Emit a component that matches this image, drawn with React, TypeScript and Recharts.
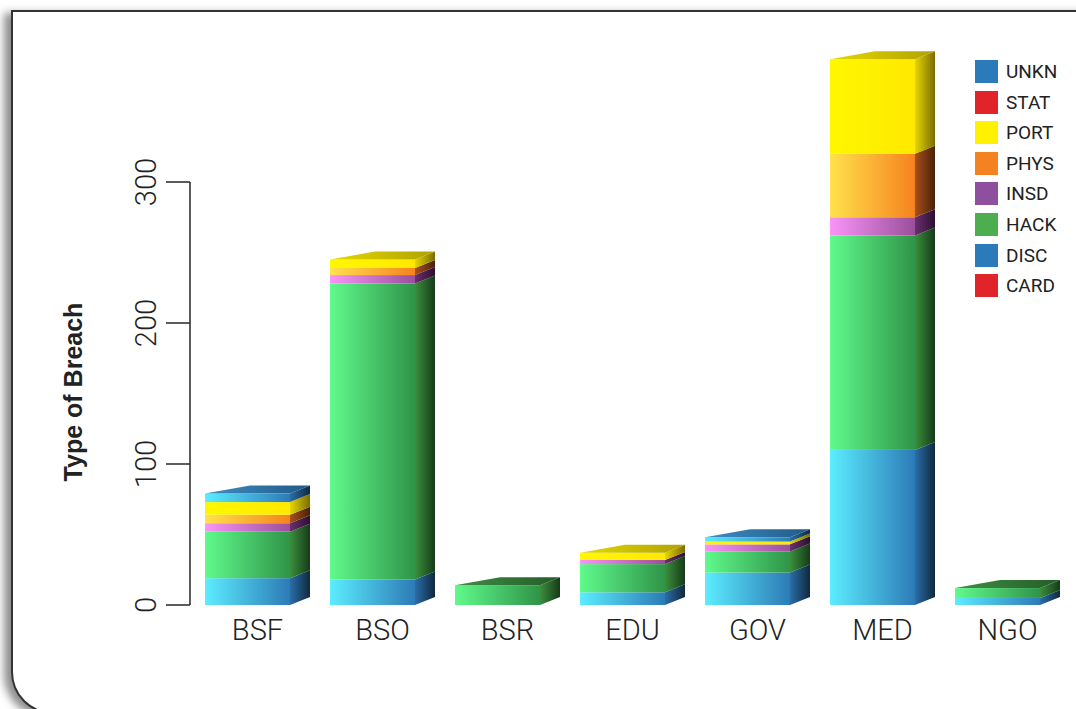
import React from 'react';
import { BarChart, Bar, XAxis, YAxis } from 'recharts';

// ---- data ----
const categories = ['BSF', 'BSO', 'BSR', 'EDU', 'GOV', 'MED', 'NGO'];
const CARD = [0, 0, 0, 0, 0, 0, 0];
const DISC = [19, 18, 0, 9, 23, 110, 5];
const HACK = [33, 210, 14, 20, 15, 152, 7];
const INSD = [6, 6, 0, 3, 5, 13, 0];
const PHYS = [6, 5, 0, 0, 0, 45, 0];
const PORT = [9, 6, 0, 5, 2, 67, 0];
const STAT = [0, 0, 0, 0, 0, 0, 0];
const UNKN = [6, 0, 0, 0, 3, 0, 0];

const yTicks = [0, 100, 200, 300];
const stackKeys = ['CARD', 'DISC', 'HACK', 'INSD', 'PHYS', 'PORT', 'STAT', 'UNKN'];
const legendKeys = ['UNKN', 'STAT', 'PORT', 'PHYS', 'INSD', 'HACK', 'DISC', 'CARD'];
const legendColors: Record<string, string> = {
  UNKN: '#2b7bba', STAT: '#e0242a', PORT: '#fff100', PHYS: '#f58220',
  INSD: '#8e4f9e', HACK: '#4cae4f', DISC: '#2b7bba', CARD: '#e0242a',
};

const series: Record<string, number[]> = { CARD, DISC, HACK, INSD, PHYS, PORT, STAT, UNKN };
const data = categories.map((c, i) => {
  const row: Record<string, any> = { name: c };
  stackKeys.forEach((k) => { row[k] = series[k][i]; });
  return row;
});

// ---- style / layout ----
const CHART_W = 1076;
const CHART_H = 709;
const MARGIN = { top: 41, right: 6, bottom: 0, left: 0 };
const XAXIS_H = 104;
const YAXIS_W = 190;
const Y_MAX = 400;
const PLOT_H = CHART_H - MARGIN.top - MARGIN.bottom - XAXIS_H;
const DX = 20;
const DY = 8;
const BAR_W = 85;
const FONT = "Roboto, 'Liberation Sans', sans-serif";

const groupOf: Record<string, string> = {
  CARD: 'red', STAT: 'red', DISC: 'blue', UNKN: 'blue', HACK: 'green',
  INSD: 'purple', PHYS: 'orange', PORT: 'yellow',
};
const grads: Record<string, { front: string[]; side: string[]; top: string[] }> = {
  blue: { front: ['#5cedff', '#2c7bb6'], side: ['#2a6ea8', '#10283e'], top: ['#3f8ec6', '#1f5a86'] },
  green: { front: ['#60fa8c', '#2f9448'], side: ['#3a8f3c', '#163a19'], top: ['#3f8f44', '#245c28'] },
  purple: { front: ['#fa94f8', '#9a4f9a'], side: ['#6a2f6e', '#2c1030'], top: ['#8a4a8e', '#5a2a60'] },
  orange: { front: ['#ffe24c', '#f6821f'], side: ['#a8501a', '#4a2008'], top: ['#d87020', '#9a4a10'] },
  yellow: { front: ['#fff700', '#ffe900'], side: ['#e6d600', '#7a6c00'], top: ['#e4d800', '#b0a200'] },
  red: { front: ['#ff5a5a', '#c81e24'], side: ['#901418', '#400808'], top: ['#b01a20', '#801014'] },
};

const topKeyOf = (payload: any) => {
  let top = '';
  stackKeys.forEach((k) => { if (payload[k] > 0) top = k; });
  return top;
};

const Segment3D = (props: any) => {
  const { x, y, width, height, payload, k } = props;
  if (!height || height <= 0 || !payload) return <g />;
  const g = groupOf[k];
  const x0 = x - DX / 2;
  const w = width;
  const xr = x0 + w;
  const isTop = topKeyOf(payload) === k;
  return (
    <g>
      <rect x={x0} y={y} width={w} height={height} fill={`url(#front-${g})`} />
      <polygon
        points={`${xr},${y} ${xr + DX},${y - DY} ${xr + DX},${y + height - DY} ${xr},${y + height}`}
        fill={`url(#side-${g})`}
      />
      {isTop && (
        <polygon
          points={`${x0},${y} ${x0 + w * 0.53},${y - DY} ${xr + DX},${y - DY} ${xr},${y}`}
          fill={`url(#top-${g})`}
        />
      )}
    </g>
  );
};

const YTick = (props: any) => {
  const { x, y, payload } = props;
  const tx = x - 8;
  return (
    <text x={tx} y={y} transform={`rotate(-90 ${tx} ${y})`} textAnchor="middle"
      fontSize={29} fontFamily={FONT} fontWeight={300} fill="#222">
      {payload.value}
    </text>
  );
};

const YTitle = () => (
  <text x={82} y={392} transform="rotate(-90 82 392)" textAnchor="middle"
    fontSize={25} fontWeight="bold" fontFamily="'Liberation Sans', Arial, sans-serif" fill="#222">
    Type of Breach
  </text>
);

const Defs = () => (
  <svg width={0} height={0} style={{ position: 'absolute' }}>
    <defs>
      {Object.keys(grads).map((g) => (
        <React.Fragment key={g}>
          <linearGradient id={`front-${g}`} x1="0" y1="0" x2="1" y2="0">
            <stop offset="0%" stopColor={grads[g].front[0]} />
            <stop offset="100%" stopColor={grads[g].front[1]} />
          </linearGradient>
          <linearGradient id={`side-${g}`} x1="0" y1="0" x2="1" y2="0">
            <stop offset="0%" stopColor={grads[g].side[0]} />
            <stop offset="100%" stopColor={grads[g].side[1]} />
          </linearGradient>
          <linearGradient id={`top-${g}`} x1="0" y1="0" x2="1" y2="0">
            <stop offset="0%" stopColor={grads[g].top[0]} />
            <stop offset="100%" stopColor={grads[g].top[1]} />
          </linearGradient>
        </React.Fragment>
      ))}
    </defs>
  </svg>
);

export default function App() {
  return (
    <div style={{ position: 'fixed', left: 0, top: 0, width: CHART_W, height: CHART_H, overflow: 'hidden', background: '#fff' }}>
      <Defs />
      <div
        style={{
          position: 'absolute', left: 11, top: 10, width: 1120, height: 704,
          border: '2px solid #333', borderBottomLeftRadius: 42, boxSizing: 'border-box',
          boxShadow: '-7px 3px 9px rgba(0,0,0,0.45)', background: '#fff',
        }}
      />
      <div style={{ position: 'absolute', left: 0, top: 0 }}>
        <BarChart width={CHART_W} height={CHART_H} data={data} margin={MARGIN} barSize={BAR_W}>
          <XAxis dataKey="name" height={XAXIS_H} tickLine={false} axisLine={false} tickSize={0} tickMargin={14}
            padding={{ left: 5, right: 0 }} interval={0}
            tick={{ fontSize: 29, fontFamily: FONT, fontWeight: 300, fill: '#222' }} />
          <YAxis width={YAXIS_W} domain={[0, Y_MAX]} ticks={yTicks} tickSize={24}
            tickLine={{ stroke: '#333', strokeWidth: 1.6 }}
            axisLine={{ stroke: '#333', strokeWidth: 1.6, strokeDasharray: `0 ${PLOT_H * (Y_MAX - 300) / Y_MAX} ${PLOT_H * 300 / Y_MAX + 2}` }}
            tick={<YTick />} label={<YTitle />} />
          {stackKeys.map((k) => (
            <Bar key={k} dataKey={k} stackId="a" isAnimationActive={false}
              shape={(p: any) => <Segment3D {...p} k={k} />} />
          ))}
        </BarChart>
      </div>
      <div style={{ position: 'absolute', left: 975, top: 60 }}>
        {legendKeys.map((k) => (
          <div key={k} style={{ display: 'flex', alignItems: 'center', height: 30.6 }}>
            <div style={{ width: 23, height: 23, background: legendColors[k], marginRight: 8, alignSelf: 'flex-start' }} />
            <span style={{ fontFamily: FONT, fontSize: 19, color: '#222', lineHeight: '23px', alignSelf: 'flex-start' }}>{k}</span>
          </div>
        ))}
      </div>
    </div>
  );
}
